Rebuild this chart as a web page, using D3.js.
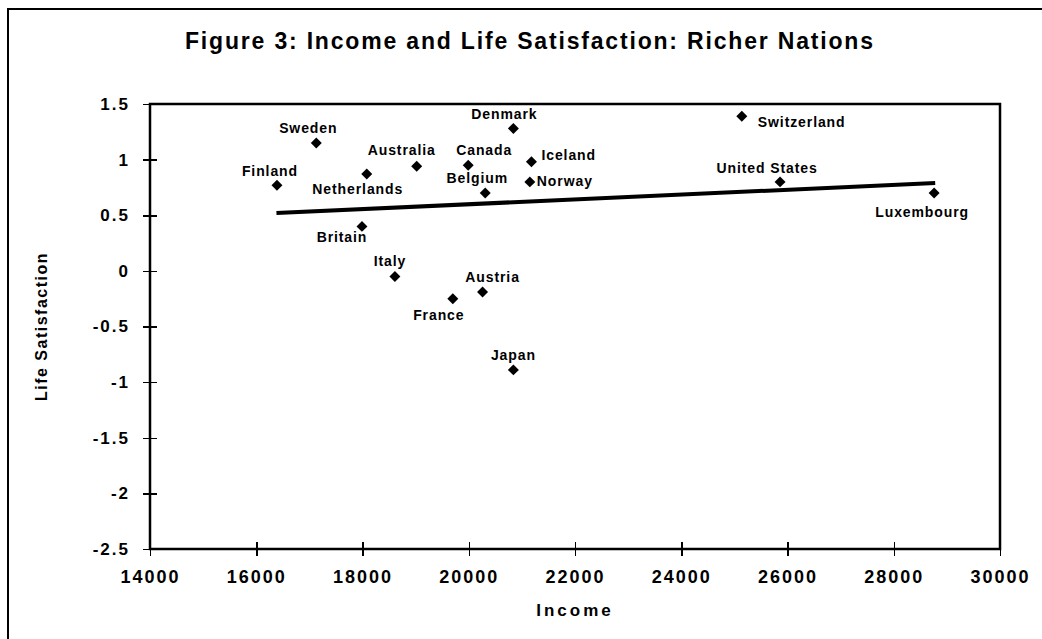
<!DOCTYPE html>
<meta charset="utf-8">
<style>
body {
  margin: 0;
  background: #fff;
  font-family: 'Liberation Sans', Arial, sans-serif;
}

text {
  fill: #000;
  font-weight: bold;
}

.title {
  font-size: 23px;
  text-anchor: middle;
}

.axis path,
.axis line {
  stroke: #000;
  stroke-width: 1.5px;
  shape-rendering: crispEdges;
}

.axis--x text {
  font-size: 18px;
  letter-spacing: 2px;
}

.axis--y text {
  font-size: 17px;
  letter-spacing: 2px;
}

.axis-title {
  text-anchor: middle;
  font-size: 17px;
}

.plot-box {
  fill: none;
  stroke: #000;
  stroke-width: 2.5px;
}

.frame {
  fill: none;
  stroke: #000;
  stroke-width: 2px;
}

.trend-line {
  fill: none;
  stroke: #000;
  stroke-width: 4px;
}

.point {
  fill: #000;
}

.point-label {
  font-size: 14px;
  letter-spacing: 0.9px;
}
</style>
<body>
<svg width="1042" height="639"></svg>
<script src="https://d3js.org/d3.v7.min.js"></script>
<script>
// data
var countries = ["Finland", "Sweden", "Netherlands", "Britain", "Italy", "Australia",
  "France", "Canada", "Austria", "Belgium", "Denmark", "Japan", "Norway", "Iceland",
  "Switzerland", "United States", "Luxembourg"];
var income = [16390, 17130, 18080, 17990, 18610, 19020, 19700, 19990, 20260, 20310,
  20840, 20840, 21150, 21180, 25140, 25860, 28760];
var lifeSat = [0.77, 1.15, 0.87, 0.40, -0.05, 0.94, -0.25, 0.95, -0.19, 0.70,
  1.28, -0.89, 0.80, 0.98, 1.39, 0.80, 0.70];

var trendIncome = [16380, 28780];
var trendLife = [0.52, 0.79];

var xTicks = [14000, 16000, 18000, 20000, 22000, 24000, 26000, 28000, 30000];
var yTicks = [1.5, 1, 0.5, 0, -0.5, -1, -1.5, -2, -2.5];

// where each country's name sits relative to its marker
var labelPos = {
  "Finland": ["middle", -7, -9],
  "Sweden": ["middle", -8, -10],
  "Netherlands": ["middle", -9, 20],
  "Britain": ["middle", -20, 16],
  "Italy": ["middle", -5, -10],
  "Australia": ["middle", -15, -11],
  "France": ["middle", -14, 21],
  "Canada": ["middle", 16, -10],
  "Austria": ["middle", 10, -10],
  "Belgium": ["middle", -8, -10],
  "Denmark": ["middle", -9, -9],
  "Japan": ["middle", 0, -10],
  "Norway": ["start", 7, 4],
  "Iceland": ["start", 10, -2],
  "Switzerland": ["start", 16, 11],
  "United States": ["middle", -13, -9],
  "Luxembourg": ["middle", -12, 24]
};

var svg = d3.select("svg");
var plotL = 150, plotR = 1000, plotT = 104, plotB = 549;

var x = d3.scaleLinear().domain([14000, 30000]).range([plotL, plotR]);
var y = d3.scaleLinear().domain([-2.5, 1.5]).range([plotB, plotT]);

// outer frame (only left and top edges show in the picture)
svg.append("rect")
    .attr("class", "frame")
    .attr("x", 8).attr("y", 9)
    .attr("width", 1060).attr("height", 660);

svg.append("text")
    .attr("class", "title")
    .attr("x", 529).attr("y", 49)
    .attr("textLength", 688)
    .attr("lengthAdjust", "spacing")
    .text("Figure 3: Income and Life Satisfaction: Richer Nations");

// axes with ticks crossing the line
var gx = svg.append("g")
    .attr("class", "axis axis--x")
    .attr("transform", "translate(0," + plotB + ")")
    .call(d3.axisBottom(x).tickValues(xTicks).tickSize(7).tickSizeOuter(0)
      .tickPadding(14).tickFormat(function(d) { return String(d); }));
gx.selectAll(".tick line").attr("y1", -7);
gx.select(".domain").remove();

var gy = svg.append("g")
    .attr("class", "axis axis--y")
    .attr("transform", "translate(" + plotL + ",0)")
    .call(d3.axisLeft(y).tickValues(yTicks).tickSize(7).tickSizeOuter(0)
      .tickPadding(13).tickFormat(function(d) { return String(d); }));
gy.selectAll(".tick line").attr("x1", 7);
gy.select(".domain").remove();

svg.append("rect")
    .attr("class", "plot-box")
    .attr("x", plotL).attr("y", plotT)
    .attr("width", plotR - plotL).attr("height", plotB - plotT);

svg.append("text")
    .attr("class", "axis-title")
    .attr("x", (plotL + plotR) / 2).attr("y", 616)
    .style("letter-spacing", "3px")
    .text("Income");

svg.append("text")
    .attr("class", "axis-title")
    .attr("transform", "translate(47," + ((plotT + plotB) / 2) + ") rotate(-90)")
    .style("font-size", "16px")
    .style("letter-spacing", "1.5px")
    .text("Life Satisfaction");

// trend line
var line = d3.line()
    .x(function(d) { return x(d[0]); })
    .y(function(d) { return y(d[1]); });

svg.append("path")
    .datum(d3.zip(trendIncome, trendLife))
    .attr("class", "trend-line")
    .attr("d", line);

// points and labels
var pts = countries.map(function(c, i) {
  return { name: c, income: income[i], life: lifeSat[i] };
});

svg.selectAll(".point")
    .data(pts)
  .enter().append("path")
    .attr("class", "point")
    .attr("d", d3.symbol(d3.symbolSquare, 60))
    .attr("transform", function(d) {
      return "translate(" + x(d.income) + "," + y(d.life) + ") rotate(45)";
    });

svg.selectAll(".point-label")
    .data(pts)
  .enter().append("text")
    .attr("class", "point-label")
    .attr("text-anchor", function(d) { return labelPos[d.name][0]; })
    .attr("x", function(d) { return x(d.income) + labelPos[d.name][1]; })
    .attr("y", function(d) { return y(d.life) + labelPos[d.name][2]; })
    .text(function(d) { return d.name; });
</script>
